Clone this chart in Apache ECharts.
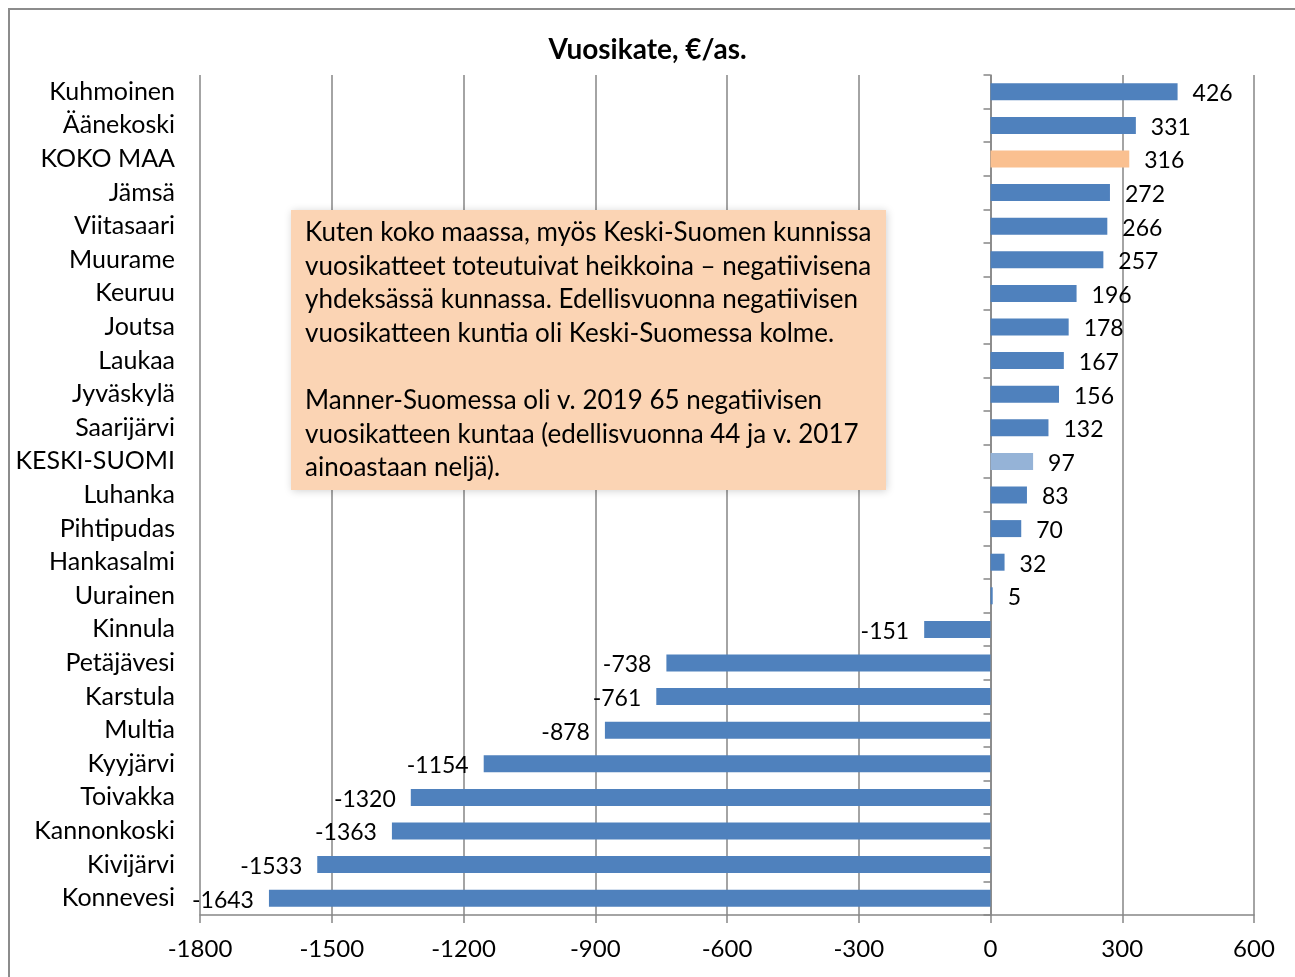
<html>
<head>
<meta charset="utf-8">
<title>Vuosikate</title>
<script src="https://cdn.jsdelivr.net/npm/echarts@6/dist/echarts.min.js"></script>
<style type="text/css">
body{
	margin:0;
	background-color:white;
}
#chart{
	width:1295px;
	height:977px;
}
</style>
</head>
<body>
<div id="chart"></div>
<script type="text/javascript">
// kunnat ylhäältä alas
var kunnat = ['Kuhmoinen','Äänekoski','KOKO MAA','Jämsä','Viitasaari','Muurame','Keuruu','Joutsa',
	'Laukaa','Jyväskylä','Saarijärvi','KESKI-SUOMI','Luhanka','Pihtipudas','Hankasalmi','Uurainen',
	'Kinnula','Petäjävesi','Karstula','Multia','Kyyjärvi','Toivakka','Kannonkoski','Kivijärvi','Konnevesi'];
var vuosikate = [426,331,316,272,266,257,196,178,167,156,132,97,83,70,32,5,
	-151,-738,-761,-878,-1154,-1320,-1363,-1533,-1643];
var xTicks = [-1800,-1500,-1200,-900,-600,-300,0,300,600];
var teksti = [
	'Kuten koko maassa, myös Keski-Suomen kunnissa',
	'vuosikatteet toteutuivat heikkoina \u2013 negatiivisena',
	'yhdeksässä kunnassa. Edellisvuonna negatiivisen',
	'vuosikatteen kuntia oli Keski-Suomessa kolme.',
	'',
	'Manner-Suomessa oli v. 2019 65 negatiivisen',
	'vuosikatteen kuntaa (edellisvuonna 44 ja v. 2017',
	'ainoastaan neljä).'
];

var font = 'Lato, "Open Sans", sans-serif';
var gridCol = '#868686';

function barColor(name){
	if(name == 'KOKO MAA') return '#FAC090';
	if(name == 'KESKI-SUOMI') return '#95B3D7';
	return '#4F81BD';
}

var barData = [];
for (var i = 0; i < kunnat.length; i++) {
	barData.push({
		value: vuosikate[i],
		itemStyle: {color: barColor(kunnat[i])},
		label: {position: vuosikate[i] < 0 ? 'left' : 'right'}
	});
}

var myChart = echarts.init(document.getElementById('chart'));
var option = {
	animation: false,
	textStyle: {fontFamily: font},
	title: {
		text: 'Vuosikate, €/as.',
		left: 'center',
		top: 31,
		textStyle: {fontSize: 28, fontWeight: 'bold', color: '#000', fontFamily: font}
	},
	grid: {left: 200, right: 41, top: 75, bottom: 62},
	xAxis: {
		type: 'value',
		min: -1800,
		max: 600,
		interval: 300,
		axisLine: {show: true, onZero: false, lineStyle: {color: gridCol, width: 1.5}},
		axisTick: {show: true, length: 8, lineStyle: {color: gridCol, width: 1.5}},
		axisLabel: {
			fontSize: 24, color: '#000', margin: 22, fontFamily: font,
			customValues: xTicks,
			formatter: function (v) { return String(v); }
		},
		splitLine: {show: true, lineStyle: {color: gridCol, width: 1.5}}
	},
	yAxis: [{
		type: 'category',
		data: kunnat,
		inverse: true,
		axisLine: {show: false},
		axisTick: {show: false},
		axisLabel: {fontSize: 25, color: '#000', margin: 25, fontFamily: font, padding: [2, 0, 0, 0]}
	},{
		type: 'category',
		data: kunnat,
		inverse: true,
		position: 'left',
		axisLine: {show: true, onZero: true, onZeroAxisIndex: 0, lineStyle: {color: gridCol, width: 1.5}},
		axisTick: {show: true, length: 7, lineStyle: {color: gridCol, width: 1.5}},
		axisLabel: {show: false}
	}],
	series: [{
		name: 'Vuosikate',
		type: 'bar',
		yAxisIndex: 0,
		barWidth: 17,
		data: barData,
		z: 3,
		label: {
			show: true,
			distance: 15,
			offset: [0, 2],
			fontSize: 23,
			color: '#000',
			fontFamily: font
		}
	}],
	graphic: [{
		type: 'rect',
		shape: {x: 9, y: 9, width: 1300, height: 1000},
		style: {fill: 'none', stroke: '#8c8c8c', lineWidth: 2},
		silent: true
	},{
		type: 'rect',
		shape: {x: 291, y: 210, width: 595, height: 280},
		style: {fill: '#FBD4B4', shadowBlur: 8, shadowColor: 'rgba(0,0,0,0.18)', shadowOffsetX: 1, shadowOffsetY: 1},
		z: 10
	},{
		type: 'text',
		left: 305,
		top: 216,
		z: 11,
		style: {
			text: teksti.join('\n'),
			font: '26px ' + font,
			fill: '#000',
			lineHeight: 33.6
		}
	}]
};
myChart.setOption(option);
</script>
</body>
</html>
